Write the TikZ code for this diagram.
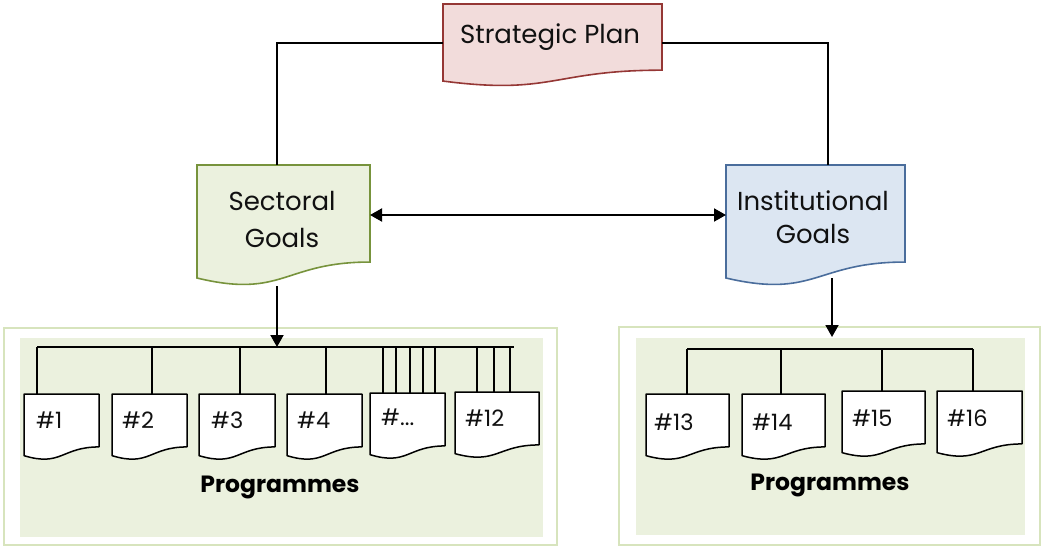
\documentclass[tikz,border=0pt]{standalone}
\usepackage{fontspec}
\setmainfont{Poppins}
\usetikzlibrary{arrows.meta,calc}
\pgfdeclarelayer{panel}
\pgfdeclarelayer{shapes}
\pgfsetlayers{panel,shapes,main}

\definecolor{spfill}{HTML}{F2DCDB}
\definecolor{spline}{HTML}{953735}
\definecolor{sgfill}{HTML}{EBF1DE}
\definecolor{sgline}{HTML}{77933C}
\definecolor{igfill}{HTML}{DCE6F2}
\definecolor{igline}{HTML}{4A6D9C}
\definecolor{panelfill}{HTML}{EBF1DE}
\definecolor{panelline}{HTML}{D7E4BD}
\definecolor{ink}{HTML}{111111}

\tikzset{
  docnode/.style={rectangle, inner sep=0pt, outer sep=0pt, draw=none},
  conn/.style={draw=black, line width=1.9pt},
  tip/.style={-{Triangle[length=12pt,width=13pt]}},
  bigtext/.style={font=\fontsize{26}{31}\selectfont, text=ink, align=center, inner sep=0pt},
  numtext/.style={font=\fontsize{22.5}{26}\selectfont, text=ink, anchor=west, inner sep=0pt},
  progtext/.style={font=\fontsize{23.5}{27}\selectfont\bfseries, text=black, inner sep=0pt},
  smalldoc/.style={fill=white, draw=black, line width=1.5pt, line join=round},
}

% wavy-bottom document outline behind a named node
\newcommand\docoutline[2]{%
  \begin{pgfonlayer}{shapes}
  \path[#2] (#1.north west) -- (#1.north east)
    -- ($(#1.north east)!0.802!(#1.south east)$)
    .. controls ($(#1.north)!0.802!(#1.south)$) and ($(#1.north)!1.107!(#1.south)$)
    .. ($(#1.north west)!0.934!(#1.south west)$) -- cycle;
  \end{pgfonlayer}}

\begin{document}
\begin{tikzpicture}[x=1pt, y=-1pt]
\useasboundingbox (0,0) rectangle (1041,546);

% programme panels
\begin{pgfonlayer}{panel}
  \draw[panelline, line width=1.3pt, fill=white] (4,328) rectangle (557,545);
  \fill[panelfill] (20,338) rectangle (543,537);
  \draw[panelline, line width=1.3pt, fill=white] (619,327) rectangle (1040,545);
  \fill[panelfill] (636,338) rectangle (1025,535);
\end{pgfonlayer}

% goal documents
\node[docnode, minimum width=219pt, minimum height=82.5pt] (sp) at (552.5,45.25) {};
\node[docnode, minimum width=173pt, minimum height=121pt] (sg) at (283.5,225.5) {};
\node[docnode, minimum width=179pt, minimum height=121pt] (ig) at (815.5,225.5) {};
\docoutline{sp}{fill=spfill, draw=spline, line width=1.6pt}
\docoutline{sg}{fill=sgfill, draw=sgline, line width=1.6pt}
\docoutline{ig}{fill=igfill, draw=igline, line width=1.6pt}

\node[bigtext] (sp-t) at (550,37) {Strategic Plan};
\node[bigtext, font=\fontsize{26}{37}\selectfont] (sg-t) at (282,219.5) {Sectoral\\Goals};
\node[bigtext, font=\fontsize{26}{33}\selectfont] (ig-t) at (813,217.5) {Institutional\\Goals};

% programme documents
\foreach \n/\cx/\cy/\w in {p1/61.5/427/75, p2/149.5/427/75, p3/237/427/76, p4/324.5/427/75,
    p5/407.5/426/75, p6/497/425/84, p13/687.5/427/83, p14/783.5/427/83,
    p15/883.5/424/83, p16/979.5/424/85}{
  \node[docnode, minimum width=\w pt, minimum height=66pt] (\n) at (\cx,\cy) {};
  \docoutline{\n}{smalldoc}
}
\node[numtext] (p1-t)  at (36,420)  {\#1};
\node[numtext] (p2-t)  at (122,420) {\#2};
\node[numtext] (p3-t)  at (211,420) {\#3};
\node[numtext] (p4-t)  at (297,420) {\#4};
\node[numtext] (p5-t)  at (381,417) {\#...};
\node[numtext] (p6-t)  at (465,418) {\#12};
\node[numtext] (p13-t) at (654,422) {\#13};
\node[numtext] (p14-t) at (752,422) {\#14};
\node[numtext] (p15-t) at (852,418) {\#15};
\node[numtext] (p16-t) at (947,418) {\#16};

\node[progtext] (prog-l) at (280,487) {Programmes};
\node[progtext] (prog-r) at (830,485) {Programmes};

% plan to goals
\draw[conn] ([yshift=2pt]sp.west) -| ([xshift=-6.5pt]sg.north);
\draw[conn] ([yshift=2pt]sp.east) -| ([xshift=12.5pt]ig.north);
\draw[conn, {Triangle[length=12pt,width=13pt]}-{Triangle[length=12pt,width=13pt]}]
  ([yshift=10.5pt]sg.east) -- ([yshift=10.5pt]ig.west);

% sectoral goals to programmes
\coordinate (busL1) at (37,347);
\coordinate (busL2) at (514,347);
\draw[conn] (busL1) -- (busL2);
\draw[conn, tip] ([xshift=-6.5pt]sg.south) -- ([xshift=-6.5pt]sg.south |- busL1);
\foreach \n/\dx in {p1/13, p2/40, p3/41, p4/39, p5/13, p5/26, p5/40, p5/53, p5/65,
    p6/22, p6/39, p6/55}{
  \draw[conn] ([xshift=\dx pt]\n.north west) -- ([xshift=\dx pt]\n.north west |- busL1);
}

% institutional goals to programmes
\coordinate (busR1) at (687,349);
\coordinate (busR2) at (973,349);
\coordinate (rtip) at (832,337);
\draw[conn] (busR1) -- (busR2);
\draw[conn, tip] ([xshift=16.5pt,yshift=8pt]ig.south) -- (rtip);
\foreach \n/\dx in {p13/41, p14/39, p15/40, p16/36}{
  \draw[conn] ([xshift=\dx pt]\n.north west) -- ([xshift=\dx pt]\n.north west |- busR1);
}
\end{tikzpicture}
\end{document}
